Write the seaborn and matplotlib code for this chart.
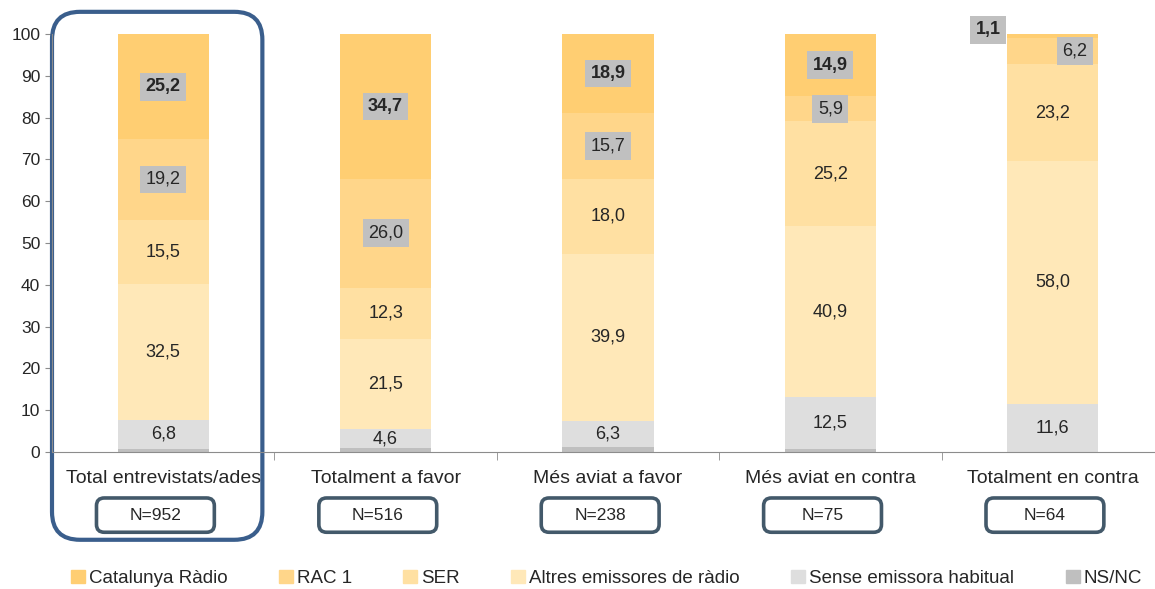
import seaborn as sns
import pandas as pd
import numpy as np
import matplotlib.pyplot as plt
from matplotlib.patches import FancyBboxPatch, Patch

# chart data (percentages, bottom of the stack first)
categories = ['Total entrevistats/ades', 'Totalment a favor', 'Més aviat a favor',
              'Més aviat en contra', 'Totalment en contra']
n_values = [952, 516, 238, 75, 64]
nsnc = [0.8, 0.9, 1.2, 0.6, 0.0]
sense = [6.8, 4.6, 6.3, 12.5, 11.6]
altres = [32.5, 21.5, 39.9, 40.9, 58.0]
ser = [15.5, 12.3, 18.0, 25.2, 23.2]
rac1 = [19.2, 26.0, 15.7, 5.9, 6.2]
cat_radio = [25.2, 34.7, 18.9, 14.9, 1.1]

series_names = ['NS/NC', 'Sense emissora habitual', 'Altres emissores de ràdio',
                'SER', 'RAC 1', 'Catalunya Ràdio']
series_values = [nsnc, sense, altres, ser, rac1, cat_radio]
series_colors = ['#BFBFBF', '#DEDEDE', '#FFE8B8', '#FFE0A2', '#FFD68A', '#FFCE72']

sns.set_style('white')
plt.rcParams['font.family'] = ['Liberation Sans', 'DejaVu Sans']

df = pd.DataFrame({'categoria': categories})
cum = np.zeros(len(categories))
for name, vals in zip(series_names, series_values):
    cum = cum + np.array(vals)
    df[name] = cum

fig = plt.figure(figsize=(11.55, 5.89), dpi=100)
ax = fig.add_axes([52 / 1155, 0.2326, 1 - 52 / 1155, 0.7097])

# stacked bars: draw the cumulative totals from the top layer down
for name, color in reversed(list(zip(series_names, series_colors))):
    sns.barplot(data=df, x='categoria', y=name, color=color, saturation=1,
                width=0.41, linewidth=0, errorbar=None, ax=ax)

# value labels
box = dict(boxstyle='square,pad=0.3', fc='#C0C0C0', ec='none')
for s, (name, vals) in enumerate(zip(series_names, series_values)):
    if name == 'NS/NC':
        continue
    tops = df[name].values
    for i, v in enumerate(vals):
        txt = f'{v:.1f}'.replace('.', ',')
        mid = tops[i] - v / 2
        if name == 'Catalunya Ràdio':
            if v < 3:
                ax.text(i - 0.29, 101, txt, ha='center', va='center', fontsize=13,
                        fontweight='bold', bbox=box, clip_on=False)
            else:
                ax.text(i, mid, txt, ha='center', va='center', fontsize=13,
                        fontweight='bold', bbox=box)
        elif name == 'RAC 1':
            x = i + 0.1 if cat_radio[i] < 3 else i
            ax.text(x, mid, txt, ha='center', va='center', fontsize=13, bbox=box)
        else:
            ax.text(i, mid, txt, ha='center', va='center', fontsize=13)

ax.set_ylim(0, 100)
ax.set_xlim(-0.5, 4.46)
ax.set_yticks(range(0, 101, 10))
ax.set_xlabel('')
ax.set_ylabel('')
for side in ['top', 'right']:
    ax.spines[side].set_visible(False)
for side in ['left', 'bottom']:
    ax.spines[side].set_color('#8C8C8C')
ax.tick_params(axis='y', left=True, length=5, color='#8C8C8C', labelsize=12.5)
ax.tick_params(axis='x', length=0, labelsize=14, pad=13)
ax.set_xticks([0.5, 1.5, 2.5, 3.5], minor=True)
ax.tick_params(axis='x', which='minor', bottom=True, length=6, color='#8C8C8C')

# N boxes under each group
trans = ax.get_xaxis_transform()
for i, n in enumerate(n_values):
    ax.add_patch(FancyBboxPatch((i - 0.3, -0.192), 0.53, 0.082,
                                boxstyle='round,pad=0,rounding_size=0.035',
                                mutation_aspect=0.53, transform=trans,
                                fc='white', ec='#43596A', lw=2.6, clip_on=False))
    ax.text(i - 0.035, -0.151, f'N={n}', transform=trans, ha='center', va='center',
            fontsize=12.5)

# highlight frame around the total column
ax.add_patch(FancyBboxPatch((-0.5, -0.21), 0.946, 1.263,
                            boxstyle='round,pad=0,rounding_size=0.126',
                            mutation_aspect=0.53, transform=trans,
                            fc='none', ec='#3A5E8C', lw=3, clip_on=False))

handles = [Patch(color=c, label=n) for n, c in zip(series_names, series_colors)][::-1]
fig.legend(handles=handles, loc='center', bbox_to_anchor=(0.525, 0.018), ncol=6,
           frameon=False, fontsize=13.5, handlelength=0.75, handleheight=0.75,
           handletextpad=0.2, columnspacing=2.75)

fig.savefig('out.png', dpi=100)
